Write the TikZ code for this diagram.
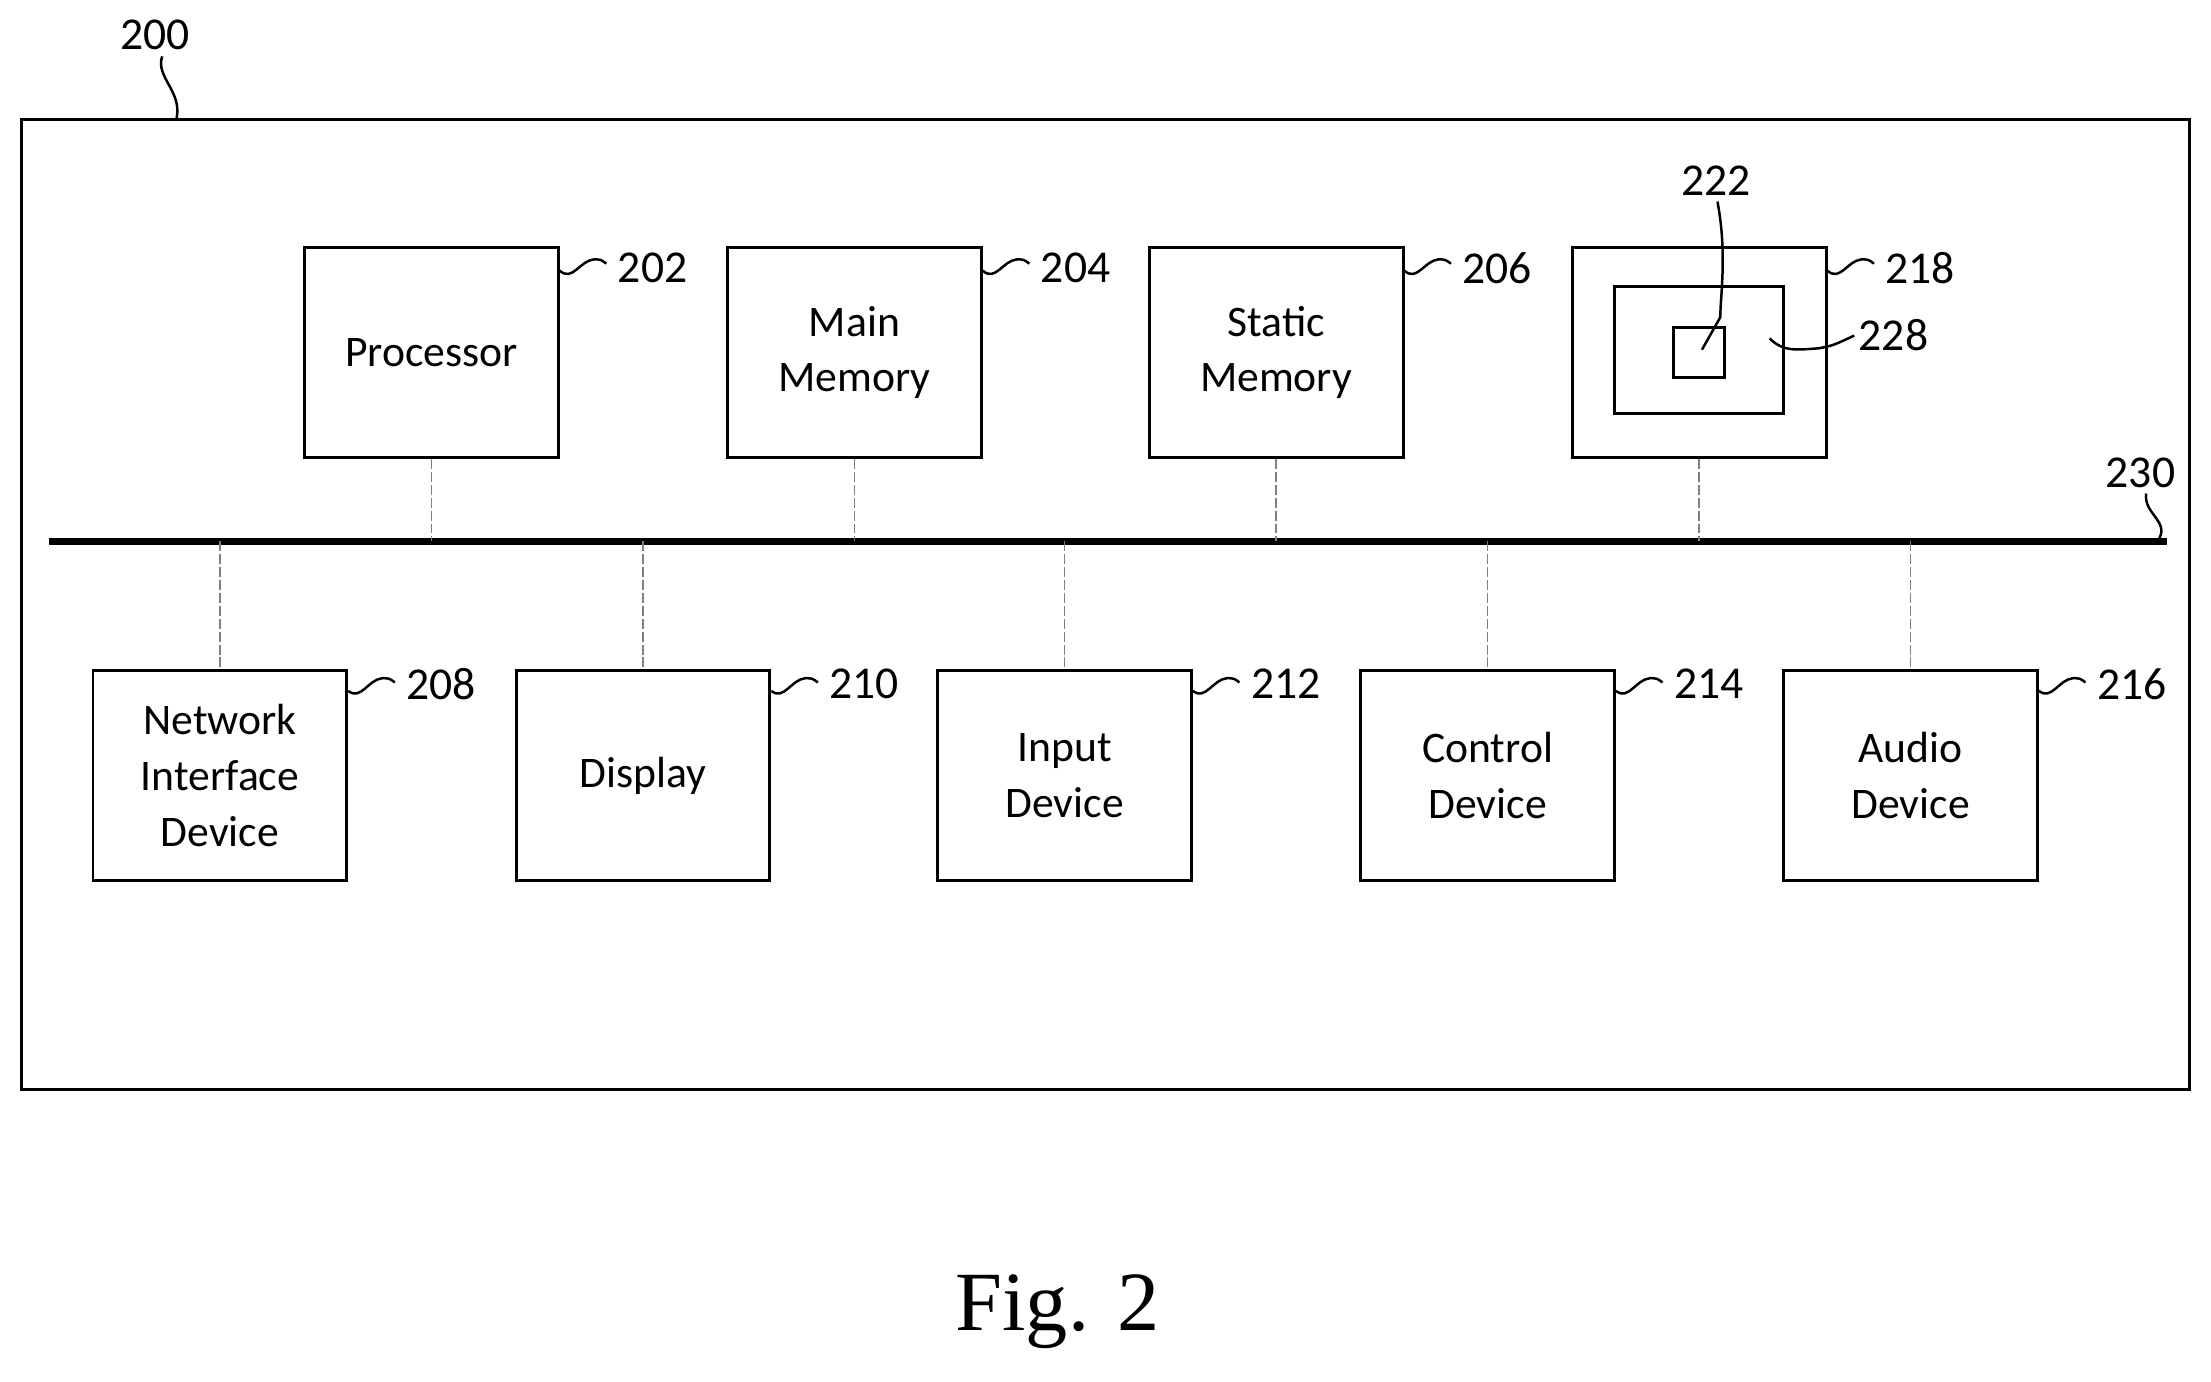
\documentclass[tikz,border=0pt]{standalone}
\usepackage{fontspec}
\setmainfont{Carlito}
\newfontfamily\serif{Liberation Serif}
\begin{document}
\begin{tikzpicture}[x=0.01cm,y=-0.01cm,
  box/.style={draw,line width=0.6pt,minimum width=1.8cm,minimum height=1.49cm,align=center,font=\fontsize{8.8}{11.2}\selectfont,inner sep=0pt},
  lab/.style={font=\fontsize{9.2}{10}\selectfont,inner sep=1pt},
  conn/.style={gray,line width=0.3pt,dash pattern=on 2pt off 0.6pt},
  sq/.style={line width=0.5pt}]
\useasboundingbox (0,0) rectangle (1568,980);
\draw[line width=0.6pt] (15,85) rectangle (1553,773);
\node[lab] (l200) at (110,25) {200};
\draw[sq] (115,40) .. controls (110,55) and (130,65) .. (125,85);
% top
\foreach \n/\x/\t/\l in {p/306/Processor/202,m/606/Main\\Memory/204,s/905/Static\\Memory/206}{
  \node[box] (\n) at (\x,250) {\t};
  \node[lab,anchor=west] (l\l) at (\x+128,190) {\l};
  \draw[sq] (\x+91,192) .. controls (\x+100,200) and (\x+105,185) .. (\x+115,184) .. controls (\x+120,184) .. (\x+124,187);
}
\node[box] (d) at (1205,250) {};
\node[draw,line width=0.6pt,minimum width=1.2cm,minimum height=0.9cm,inner sep=0pt] (d2) at (1205,248) {};
\node[draw,line width=0.6pt,minimum width=0.36cm,minimum height=0.36cm,inner sep=0pt] (d3) at (1205,250) {};
\node[lab,anchor=west] (l218) at (1333,190) {218};
\draw[sq] (1296,192) .. controls (1305,200) and (1310,185) .. (1320,184) .. controls (1325,184) .. (1329,187);
\node[lab] (l222) at (1217,128) {222};
\coordinate (c222) at (1207,248);
\draw[sq] (1218,143) .. controls (1225,180) and (1220,210) .. (1220,225) -- (c222);
\node[lab,anchor=west] (l228) at (1314,238) {228};
\coordinate (c228) at (1255,240);
\draw[sq] (c228) .. controls (1265,250) and (1275,248) .. (1290,247) .. controls (1300,245) .. (1315,238);
% bus
\coordinate (b0) at (35,384); \coordinate (b1) at (1537,384);
\draw[line width=1.3pt] (b0) -- (b1);
\node[lab] (l230) at (1518,335) {230};
\draw[sq] (1530,384) .. controls (1540,370) and (1520,365) .. (1522,350);
\foreach \n in {p,m,s,d}{ \draw[conn] (\n.south) -- (\n.south |- b0); }
% bottom
\foreach \n/\x/\t/\l in {n/156/Network\\Interface\\Device/208,di/456/Display/210,i/755/Input\\Device/212,c/1055/Control\\Device/214,a/1355/Audio\\Device/216}{
  \node[box] (\n) at (\x,550) {\t};
  \node[lab,anchor=west] (l\l) at (\x+128,485) {\l};
  \draw[sq] (\x+91,490) .. controls (\x+100,497) and (\x+105,482) .. (\x+115,481) .. controls (\x+120,481) .. (\x+124,484);
  \draw[conn] (\n.north |- b0) -- (\n.north);
}
\node[font=\serif\fontsize{17}{20}\selectfont] (fig) at (750,930) {Fig. 2};
\end{tikzpicture}
\end{document}
